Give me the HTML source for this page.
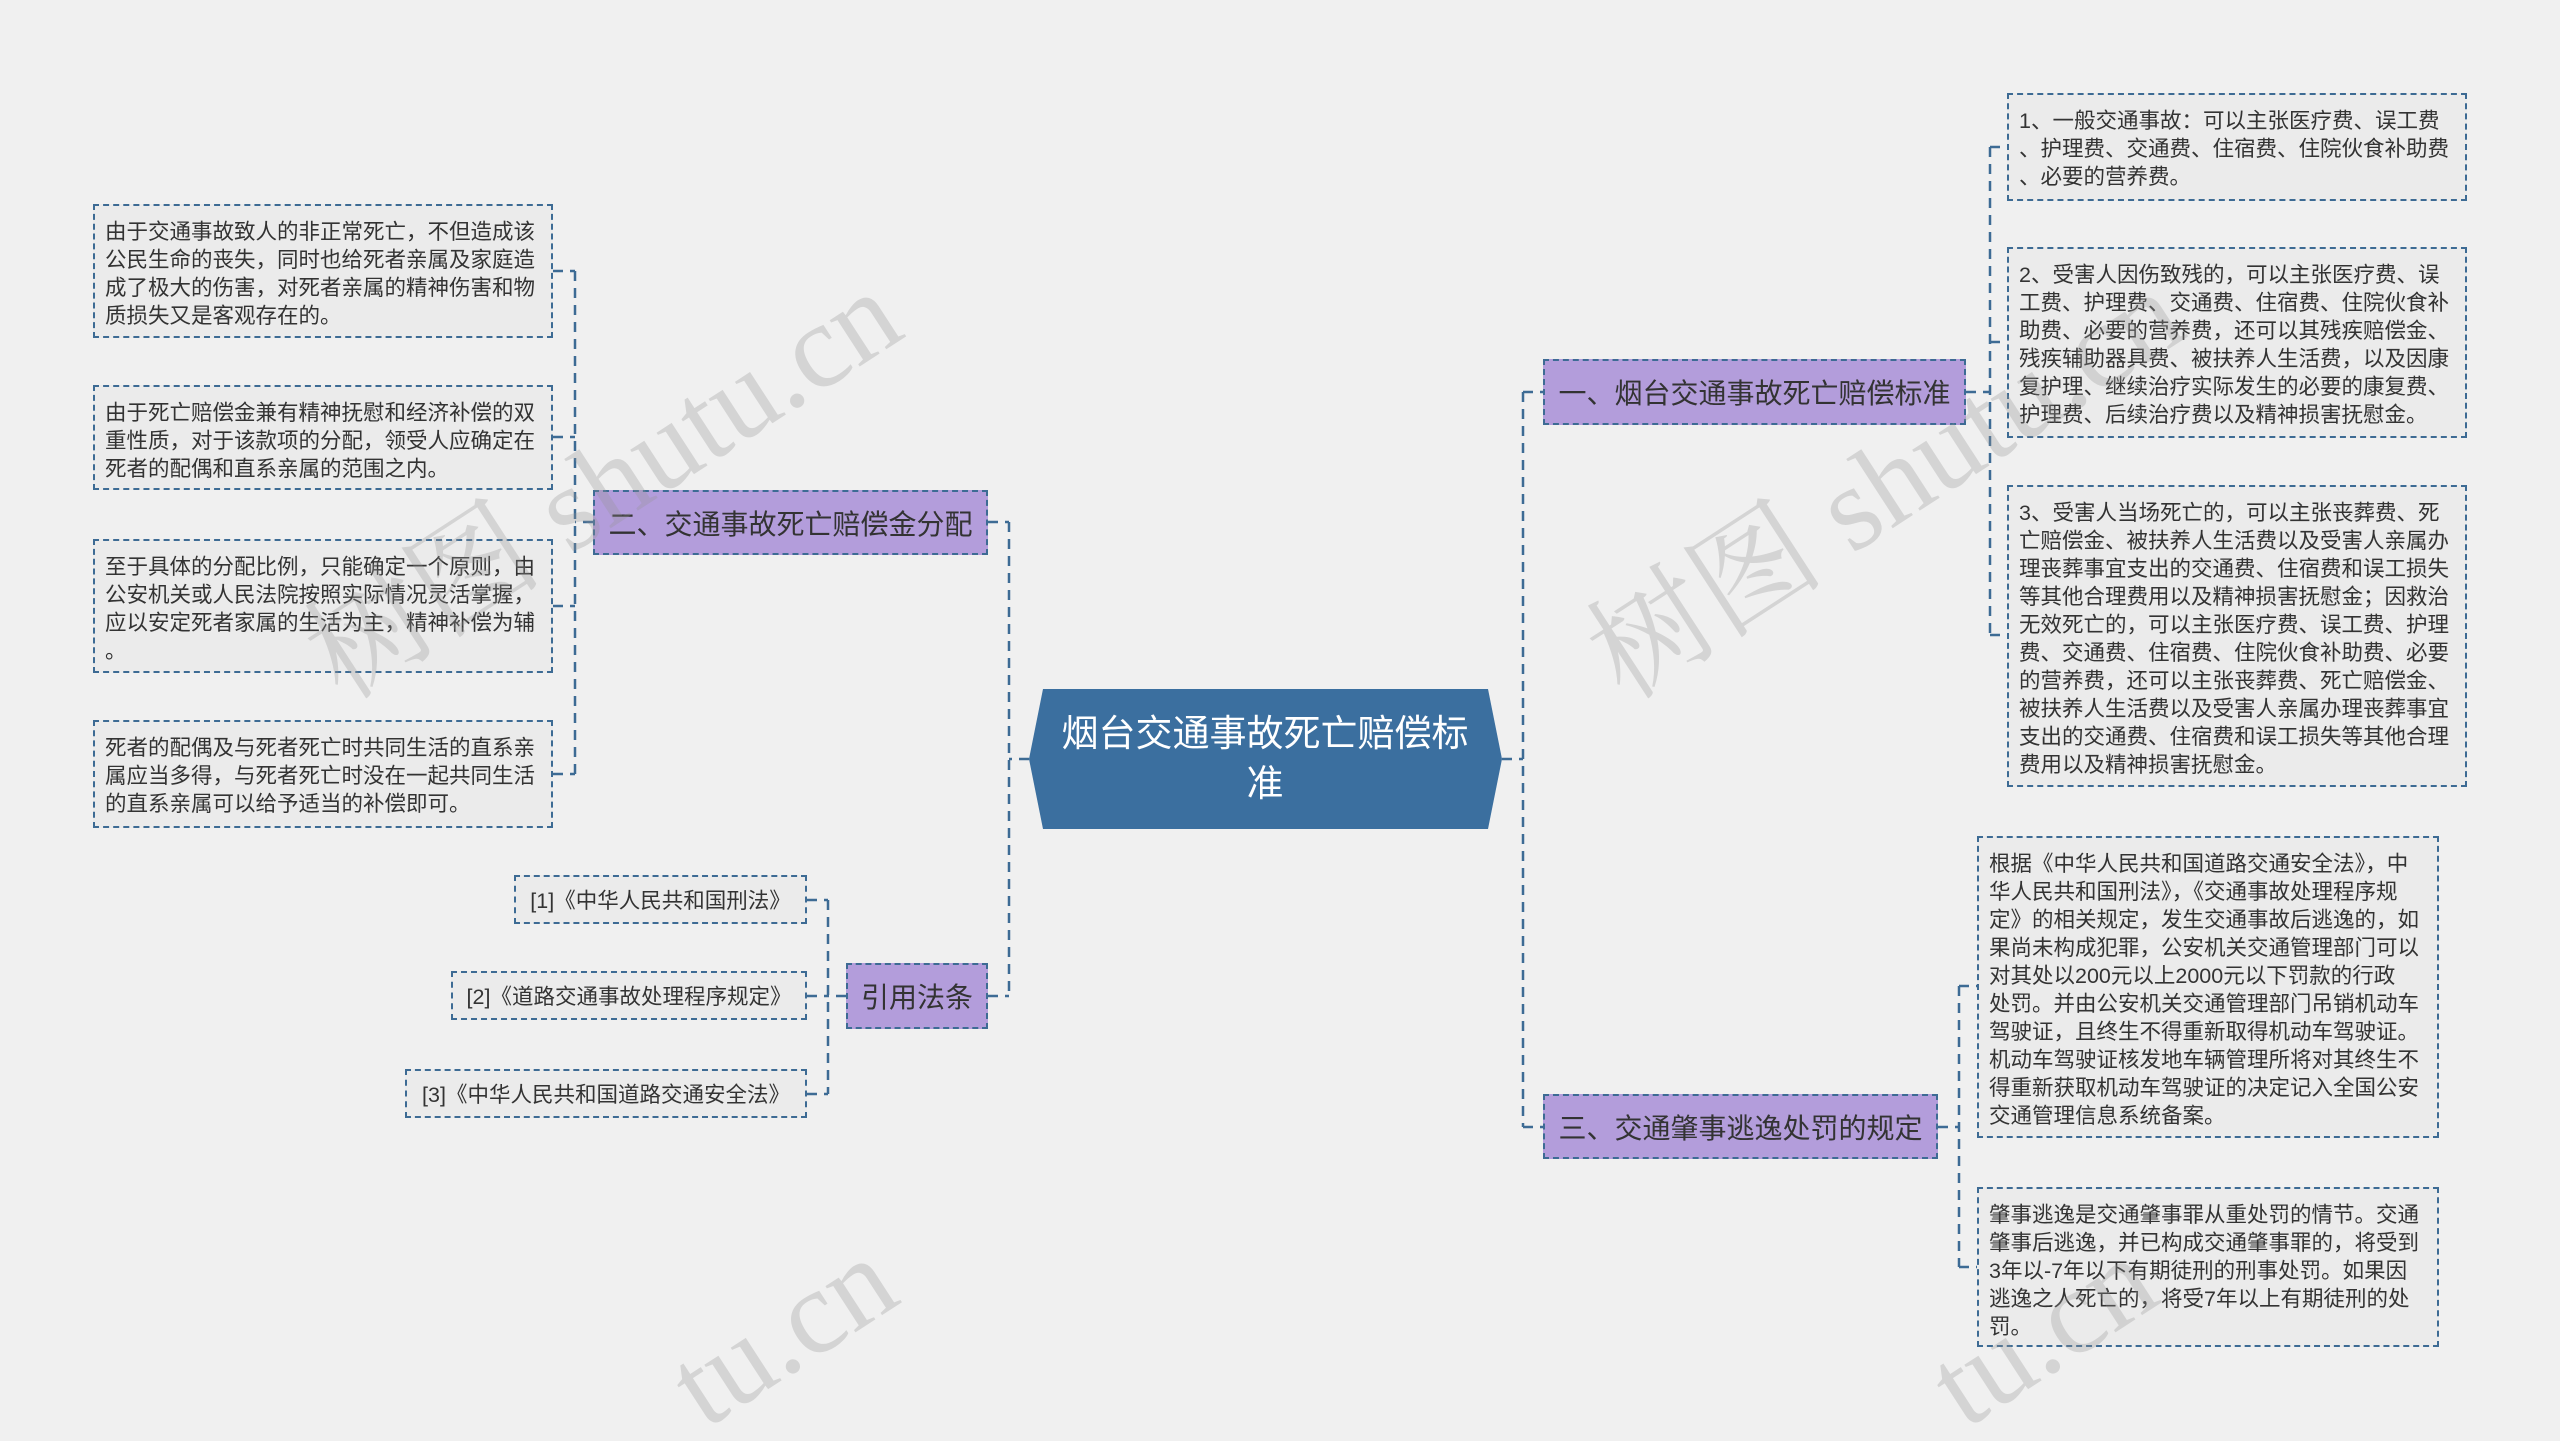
<!DOCTYPE html>
<html><head><meta charset="utf-8"><style>
html,body{margin:0;padding:0;width:2560px;height:1441px;overflow:hidden}
#c{width:2560px;height:1441px;background:#f0f0f0;position:relative;overflow:hidden;font-family:"Liberation Sans","Noto Sans CJK SC",sans-serif;}
.leaf{position:absolute;box-sizing:border-box;background:#ebebeb;border:2px dashed #3d6b94;color:#333;font-size:21.5px;line-height:28px;padding:12px 10px;white-space:nowrap;}
.br{position:absolute;box-sizing:border-box;background:#b39ddb;border:2px dashed #3d6b94;color:#333;font-size:28px;display:flex;align-items:center;justify-content:center;white-space:nowrap;}
.ref{position:absolute;box-sizing:border-box;background:#ebebeb;border:2px dashed #3d6b94;color:#333;font-size:21.5px;display:flex;align-items:center;justify-content:center;white-space:nowrap;}
</style></head><body><div id="c">
<svg width="2560" height="1441" style="position:absolute;left:0;top:0">
<g stroke="#3d6b94" stroke-width="2.5" fill="none" stroke-dasharray="10,7">
<path d="M1029 759 H1009 M1009 522 V996 M988 522 H1009 M988 996 H1009"/>
<path d="M593 522 H575 M575 271 V774 M553 271 H575 M553 437 H575 M553 606 H575 M553 774 H575"/>
<path d="M846 996 H828 M828 900 V1094 M807 900 H828 M807 996 H828 M807 1094 H828"/>
<path d="M1502 759 H1523 M1523 392 V1127 M1523 392 H1543 M1523 1127 H1543"/>
<path d="M1966 392 H1990 M1990 147 V635 M1990 147 H2007 M1990 342 H2007 M1990 635 H2007"/>
<path d="M1938 1127 H1959 M1959 986 V1267 M1959 986 H1977 M1959 1267 H1977"/>
</g>
<polygon points="1029,759 1043,689 1488,689 1502,759 1488,829 1043,829" fill="#3b6f9f"/>
<text x="1265" y="746" fill="#fff" font-size="37" text-anchor="middle" font-family="Liberation Sans,Noto Sans CJK SC,sans-serif">烟台交通事故死亡赔偿标</text>
<text x="1265" y="796" fill="#fff" font-size="37" text-anchor="middle" font-family="Liberation Sans,Noto Sans CJK SC,sans-serif">准</text>
</svg>

<div class="br" style="left:593px;top:490px;width:395px;height:65px">二、交通事故死亡赔偿金分配</div>
<div class="br" style="left:846px;top:963px;width:142px;height:66px">引用法条</div>
<div class="br" style="left:1543px;top:359px;width:423px;height:66px">一、烟台交通事故死亡赔偿标准</div>
<div class="br" style="left:1543px;top:1094px;width:395px;height:65px">三、交通肇事逃逸处罚的规定</div>

<div class="leaf" style="left:93px;top:204px;width:460px;height:134px">由于交通事故致人的非正常死亡，不但造成该<br>公民生命的丧失，同时也给死者亲属及家庭造<br>成了极大的伤害，对死者亲属的精神伤害和物<br>质损失又是客观存在的。</div>
<div class="leaf" style="left:93px;top:385px;width:460px;height:105px">由于死亡赔偿金兼有精神抚慰和经济补偿的双<br>重性质，对于该款项的分配，领受人应确定在<br>死者的配偶和直系亲属的范围之内。</div>
<div class="leaf" style="left:93px;top:539px;width:460px;height:134px">至于具体的分配比例，只能确定一个原则，由<br>公安机关或人民法院按照实际情况灵活掌握，<br>应以安定死者家属的生活为主，精神补偿为辅<br>。</div>
<div class="leaf" style="left:93px;top:720px;width:460px;height:108px">死者的配偶及与死者死亡时共同生活的直系亲<br>属应当多得，与死者死亡时没在一起共同生活<br>的直系亲属可以给予适当的补偿即可。</div>

<div class="ref" style="left:514px;top:875px;width:293px;height:49px">[1]《中华人民共和国刑法》</div>
<div class="ref" style="left:451px;top:971px;width:356px;height:49px">[2]《道路交通事故处理程序规定》</div>
<div class="ref" style="left:405px;top:1069px;width:402px;height:49px">[3]《中华人民共和国道路交通安全法》</div>

<div class="leaf" style="left:2007px;top:93px;width:460px;height:108px">1、一般交通事故：可以主张医疗费、误工费<br>、护理费、交通费、住宿费、住院伙食补助费<br>、必要的营养费。</div>
<div class="leaf" style="left:2007px;top:247px;width:460px;height:191px">2、受害人因伤致残的，可以主张医疗费、误<br>工费、护理费、交通费、住宿费、住院伙食补<br>助费、必要的营养费，还可以其残疾赔偿金、<br>残疾辅助器具费、被扶养人生活费，以及因康<br>复护理、继续治疗实际发生的必要的康复费、<br>护理费、后续治疗费以及精神损害抚慰金。</div>
<div class="leaf" style="left:2007px;top:485px;width:460px;height:302px">3、受害人当场死亡的，可以主张丧葬费、死<br>亡赔偿金、被扶养人生活费以及受害人亲属办<br>理丧葬事宜支出的交通费、住宿费和误工损失<br>等其他合理费用以及精神损害抚慰金；因救治<br>无效死亡的，可以主张医疗费、误工费、护理<br>费、交通费、住宿费、住院伙食补助费、必要<br>的营养费，还可以主张丧葬费、死亡赔偿金、<br>被扶养人生活费以及受害人亲属办理丧葬事宜<br>支出的交通费、住宿费和误工损失等其他合理<br>费用以及精神损害抚慰金。</div>

<div class="leaf" style="left:1977px;top:836px;width:462px;height:302px">根据《中华人民共和国道路交通安全法》，中<br>华人民共和国刑法》，《交通事故处理程序规<br>定》的相关规定，发生交通事故后逃逸的，如<br>果尚未构成犯罪，公安机关交通管理部门可以<br>对其处以200元以上2000元以下罚款的行政<br>处罚。并由公安机关交通管理部门吊销机动车<br>驾驶证，且终生不得重新取得机动车驾驶证。<br>机动车驾驶证核发地车辆管理所将对其终生不<br>得重新获取机动车驾驶证的决定记入全国公安<br>交通管理信息系统备案。</div>
<div class="leaf" style="left:1977px;top:1187px;width:462px;height:160px">肇事逃逸是交通肇事罪从重处罚的情节。交通<br>肇事后逃逸，并已构成交通肇事罪的，将受到<br>3年以-7年以下有期徒刑的刑事处罚。如果因<br>逃逸之人死亡的，将受7年以上有期徒刑的处<br>罚。</div>

<svg width="2560" height="1441" style="position:absolute;left:0;top:0;pointer-events:none">
<g fill="rgba(150,150,150,0.3)" font-size="120" font-family="Liberation Serif,Noto Serif CJK SC,serif">
<text transform="translate(343,702) rotate(-33)">树图 shutu.cn</text>
<text transform="translate(1625,702) rotate(-33)">树图 shutu.cn</text>
<text transform="translate(705,1430) rotate(-33)">tu.cn</text>
<text transform="translate(1965,1430) rotate(-33)">tu.cn</text>
</g>
</svg>
</div></body></html>
